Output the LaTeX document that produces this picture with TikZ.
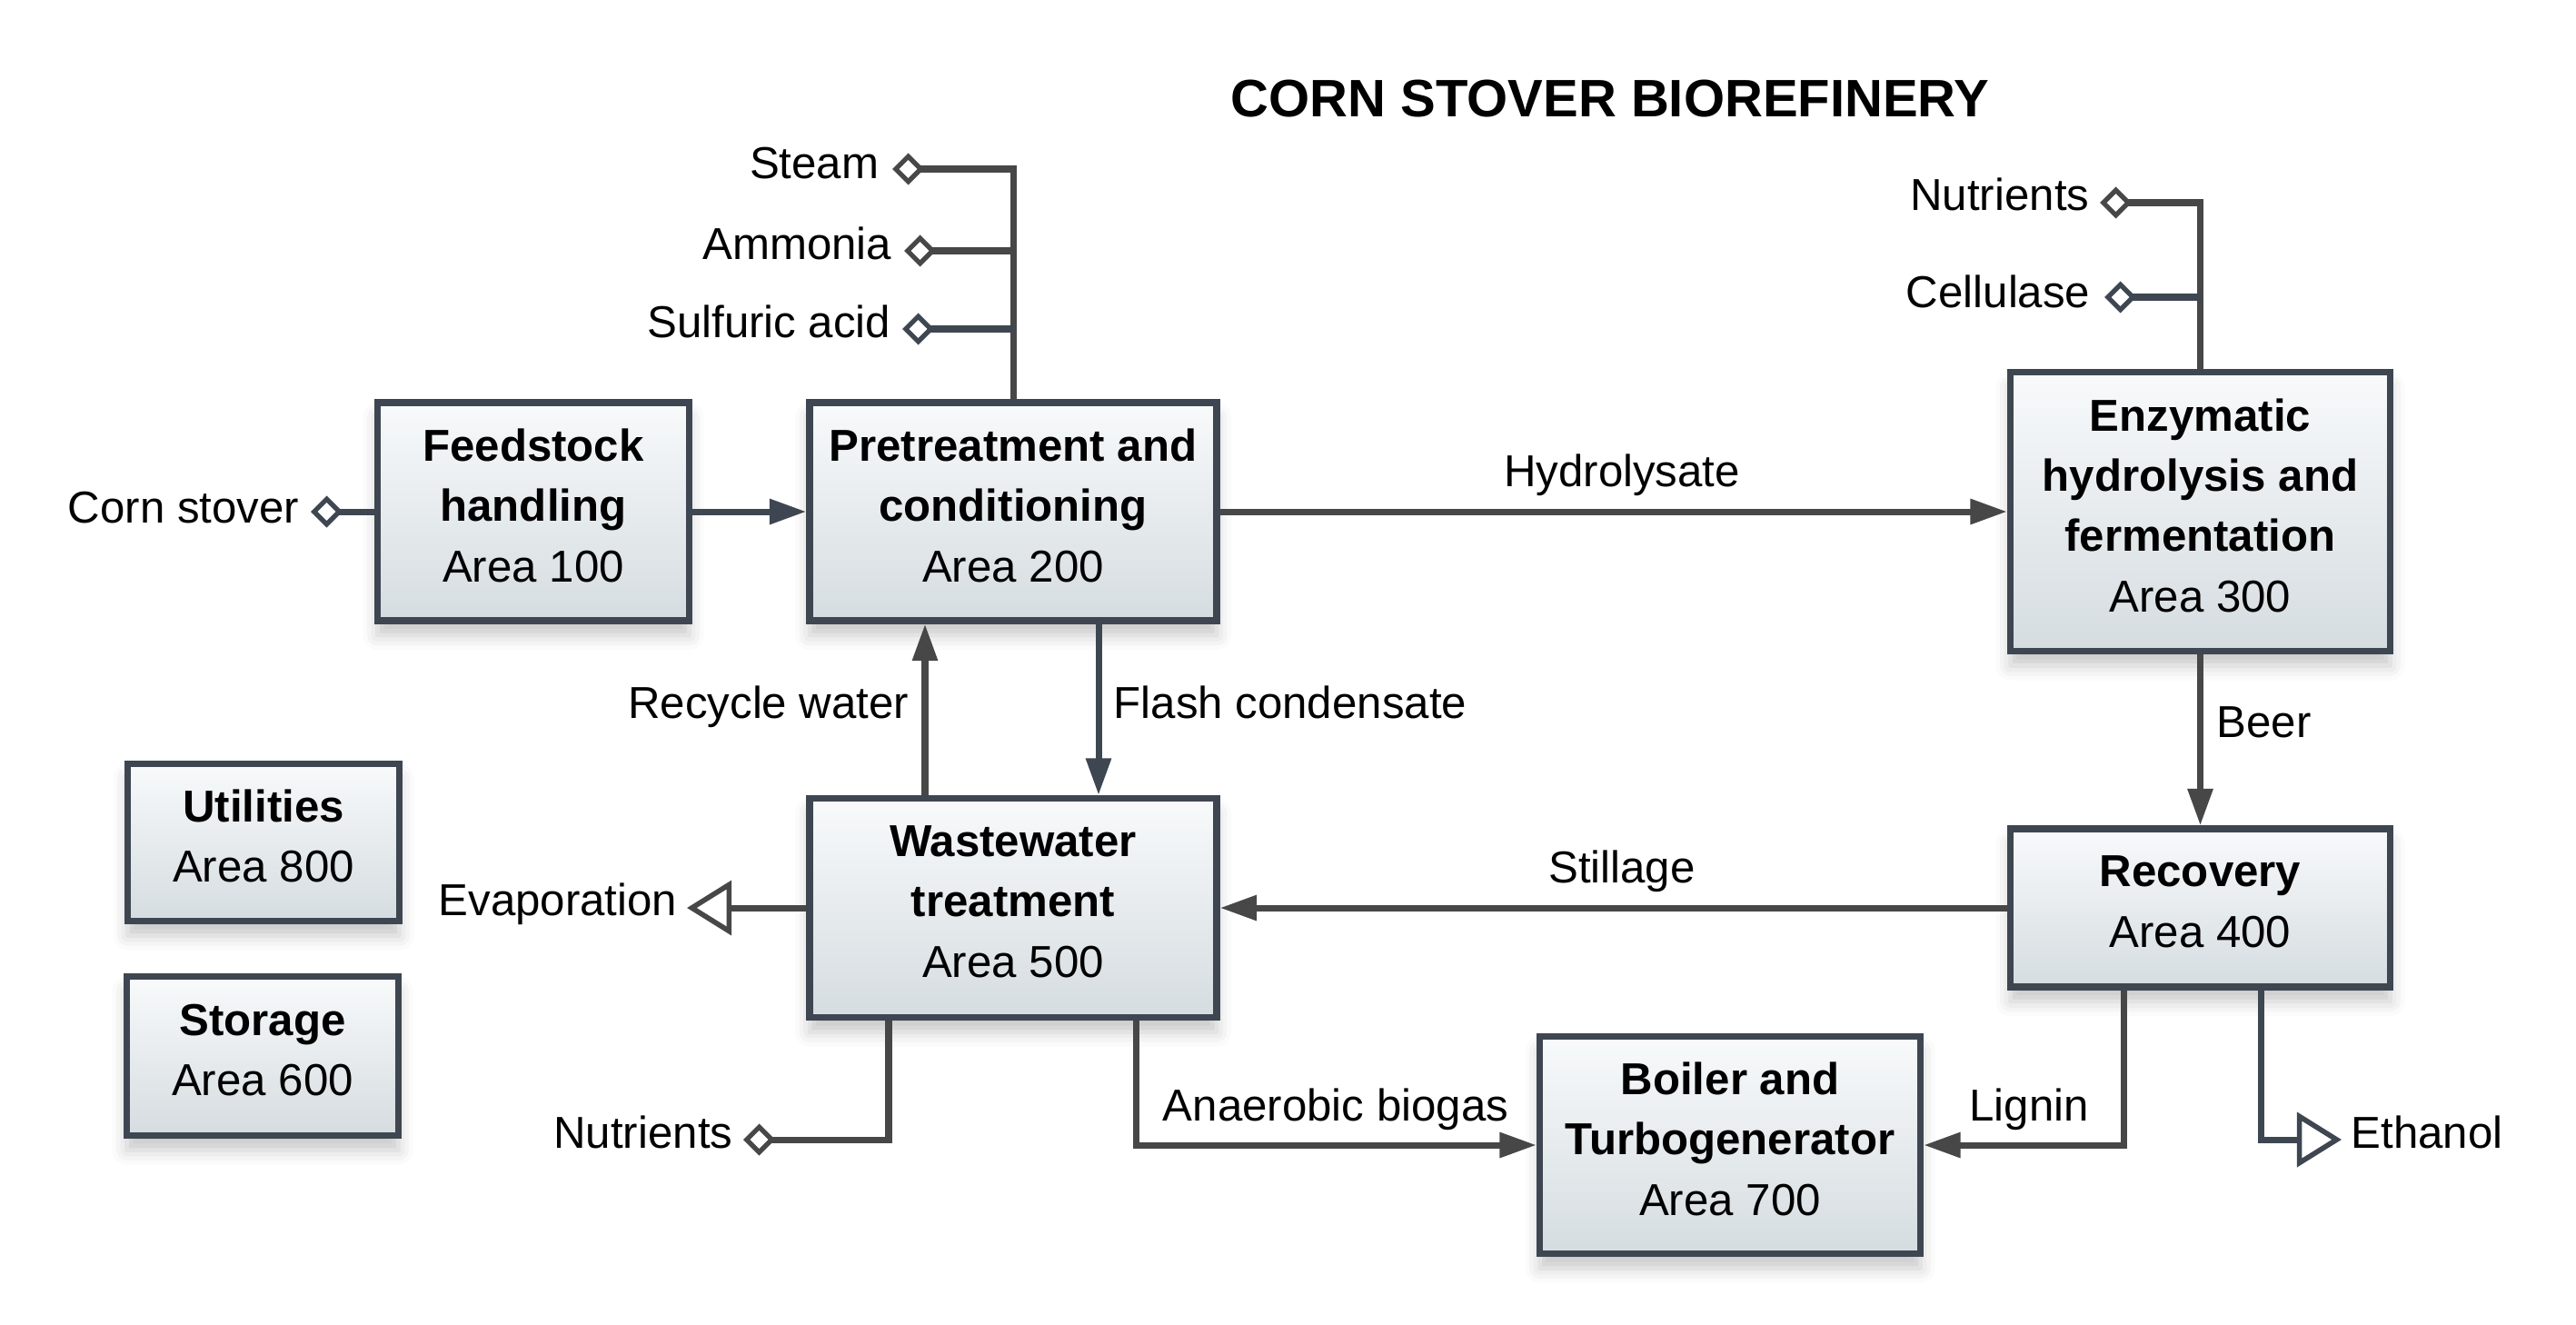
\documentclass[tikz,border=0pt]{standalone}
\usepackage{fontspec}
\setmainfont{Liberation Sans}
\usepackage{tikz}
\usetikzlibrary{arrows.meta,positioning,shadows.blur}

\definecolor{boxline}{HTML}{3E4651}
\definecolor{pipegray}{HTML}{474747}
\definecolor{pipeslate}{HTML}{3E4651}
\definecolor{boxtop}{HTML}{F8FAFB}
\definecolor{boxbottom}{HTML}{D5DCE0}

\tikzset{
area/.style={draw=boxline, line width=2.1pt, top color=boxtop, bottom color=boxbottom,
  align=center, inner sep=0pt, text depth=4pt, font=\fontsize{14}{18.85}\selectfont,
  blur shadow={shadow xshift=0pt, shadow yshift=-1.6mm, shadow blur radius=1.6mm, shadow opacity=22}},
lbl/.style={inner sep=0pt, font=\fontsize{14}{16}\selectfont, text height=10pt, text depth=3pt},
flow/.style={draw=pipegray, line width=2pt, -{Triangle[length=11.5pt,width=7.6pt]}},
inlet/.style={draw=pipegray, line width=2pt, {Diamond[open,length=10pt,width=10pt,line width=1.5pt]}-},
outlet/.style={draw=pipegray, line width=2pt, -{Triangle[open,length=14pt,width=17pt,line width=1.6pt]}},
slate/.style={draw=pipeslate}
}

\begin{document}
\begin{tikzpicture}
\useasboundingbox (0,0) rectangle (28.35,-14.57);

% title
\node[font=\fontsize{16.5}{19}\selectfont\bfseries, anchor=base] (title) at (17.72,-1.28) {CORN STOVER BIOREFINERY};

% process areas
\node[area, minimum width=3.43cm, minimum height=2.40cm] (feed) at (5.87,-5.63) {\textbf{Feedstock}\\\textbf{handling}\\Area 100};
\node[area, minimum width=4.48cm, minimum height=2.40cm] (pre) at (11.15,-5.63) {\textbf{Pretreatment and}\\\textbf{conditioning}\\Area 200};
\node[area, minimum width=4.18cm, minimum height=3.07cm] (enz) at (24.215,-5.63) {\textbf{Enzymatic}\\\textbf{hydrolysis and}\\\textbf{fermentation}\\Area 300};
\node[area, minimum width=4.18cm, minimum height=1.74cm] (rec) at (24.215,-9.99) {\textbf{Recovery}\\Area 400};
\node[area, minimum width=4.48cm, minimum height=2.41cm] (waste) at (11.15,-9.99) {\textbf{Wastewater}\\\textbf{treatment}\\Area 500};
\node[area, minimum width=4.19cm, minimum height=2.39cm] (boiler) at (19.04,-12.60) {\textbf{Boiler and}\\\textbf{Turbogenerator}\\Area 700};
\node[area, minimum width=2.99cm, minimum height=1.73cm] (util) at (2.90,-9.27) {\textbf{Utilities}\\Area 800};
\node[area, minimum width=2.99cm, minimum height=1.75cm] (stor) at (2.89,-11.62) {\textbf{Storage}\\Area 600};

% feeds in
\coordinate (csIn) at (3.42,-5.63);
\coordinate (stIn) at (9.82,-1.86);
\coordinate (amIn) at (9.95,-2.76);
\coordinate (saIn) at (9.93,-3.62);
\coordinate (nuIn) at (23.11,-2.23);
\coordinate (ceIn) at (23.16,-3.27);
\coordinate (nuInB) at (8.18,-12.54);
% products out
\coordinate (evOut) at (7.56,-9.99);
\coordinate (etOut) at (25.77,-12.54);

\draw[inlet, slate] (csIn) -- (feed.west);
\draw[inlet] (stIn) -| (pre.north);
\draw[inlet] (amIn) -- (amIn -| pre.north);
\draw[inlet, slate] (saIn) -- (saIn -| pre.north);
\draw[inlet] (nuIn) -| (enz.north);
\draw[inlet, slate] (ceIn) -- (ceIn -| enz.north);
\draw[inlet] (nuInB) -| ([xshift=-1.37cm]waste.south);

\draw[flow, slate] (feed.east) -- (pre.west);
\draw[flow] (pre.east) -- (enz.west);
\draw[flow] (enz.south) -- (rec.north);
\draw[flow] (rec.west) -- (waste.east);
\draw[flow, slate] ([xshift=0.94cm]pre.south) -- ([xshift=0.94cm]waste.north);
\draw[flow] ([xshift=-0.97cm]waste.north) -- ([xshift=-0.97cm]pre.south);
\draw[flow] ([xshift=1.35cm]waste.south) |- (boiler.west);
\draw[flow] ([xshift=-0.845cm]rec.south) |- (boiler.east);

\draw[outlet] (waste.west) -- (evOut);
\draw[outlet, slate] ([xshift=0.665cm]rec.south) |- (etOut);

% stream labels
\node[lbl, anchor=east] (csTxt) at (3.30,-5.63) {Corn stover};
\node[lbl, anchor=east] (stTxt) at (9.68,-1.84) {Steam};
\node[lbl, anchor=east] (amTxt) at (9.82,-2.73) {Ammonia};
\node[lbl, anchor=east] (saTxt) at (9.81,-3.59) {Sulfuric acid};
\node[lbl, anchor=east] (nuTxt) at (23.00,-2.19) {Nutrients};
\node[lbl, anchor=east] (ceTxt) at (23.01,-3.26) {Cellulase};
\node[lbl, anchor=east] (nuTxtB) at (8.07,-12.51) {Nutrients};
\node[lbl, anchor=east] (evTxt) at (7.46,-9.95) {Evaporation};
\node[lbl, anchor=west] (etTxt) at (25.87,-12.51) {Ethanol};
\node[lbl] (hyTxt) at (17.85,-5.23) {Hydrolysate};
\node[lbl] (slTxt) at (17.85,-9.59) {Stillage};
\node[lbl, anchor=west] (beTxt) at (24.39,-7.99) {Beer};
\node[lbl, anchor=west] (fcTxt) at (12.25,-7.78) {Flash condensate};
\node[lbl, anchor=east] (rwTxt) at (10.01,-7.78) {Recycle water};
\node[lbl] (abTxt) at (14.70,-12.21) {Anaerobic biogas};
\node[lbl] (liTxt) at (22.33,-12.21) {Lignin};

\end{tikzpicture}
\end{document}
